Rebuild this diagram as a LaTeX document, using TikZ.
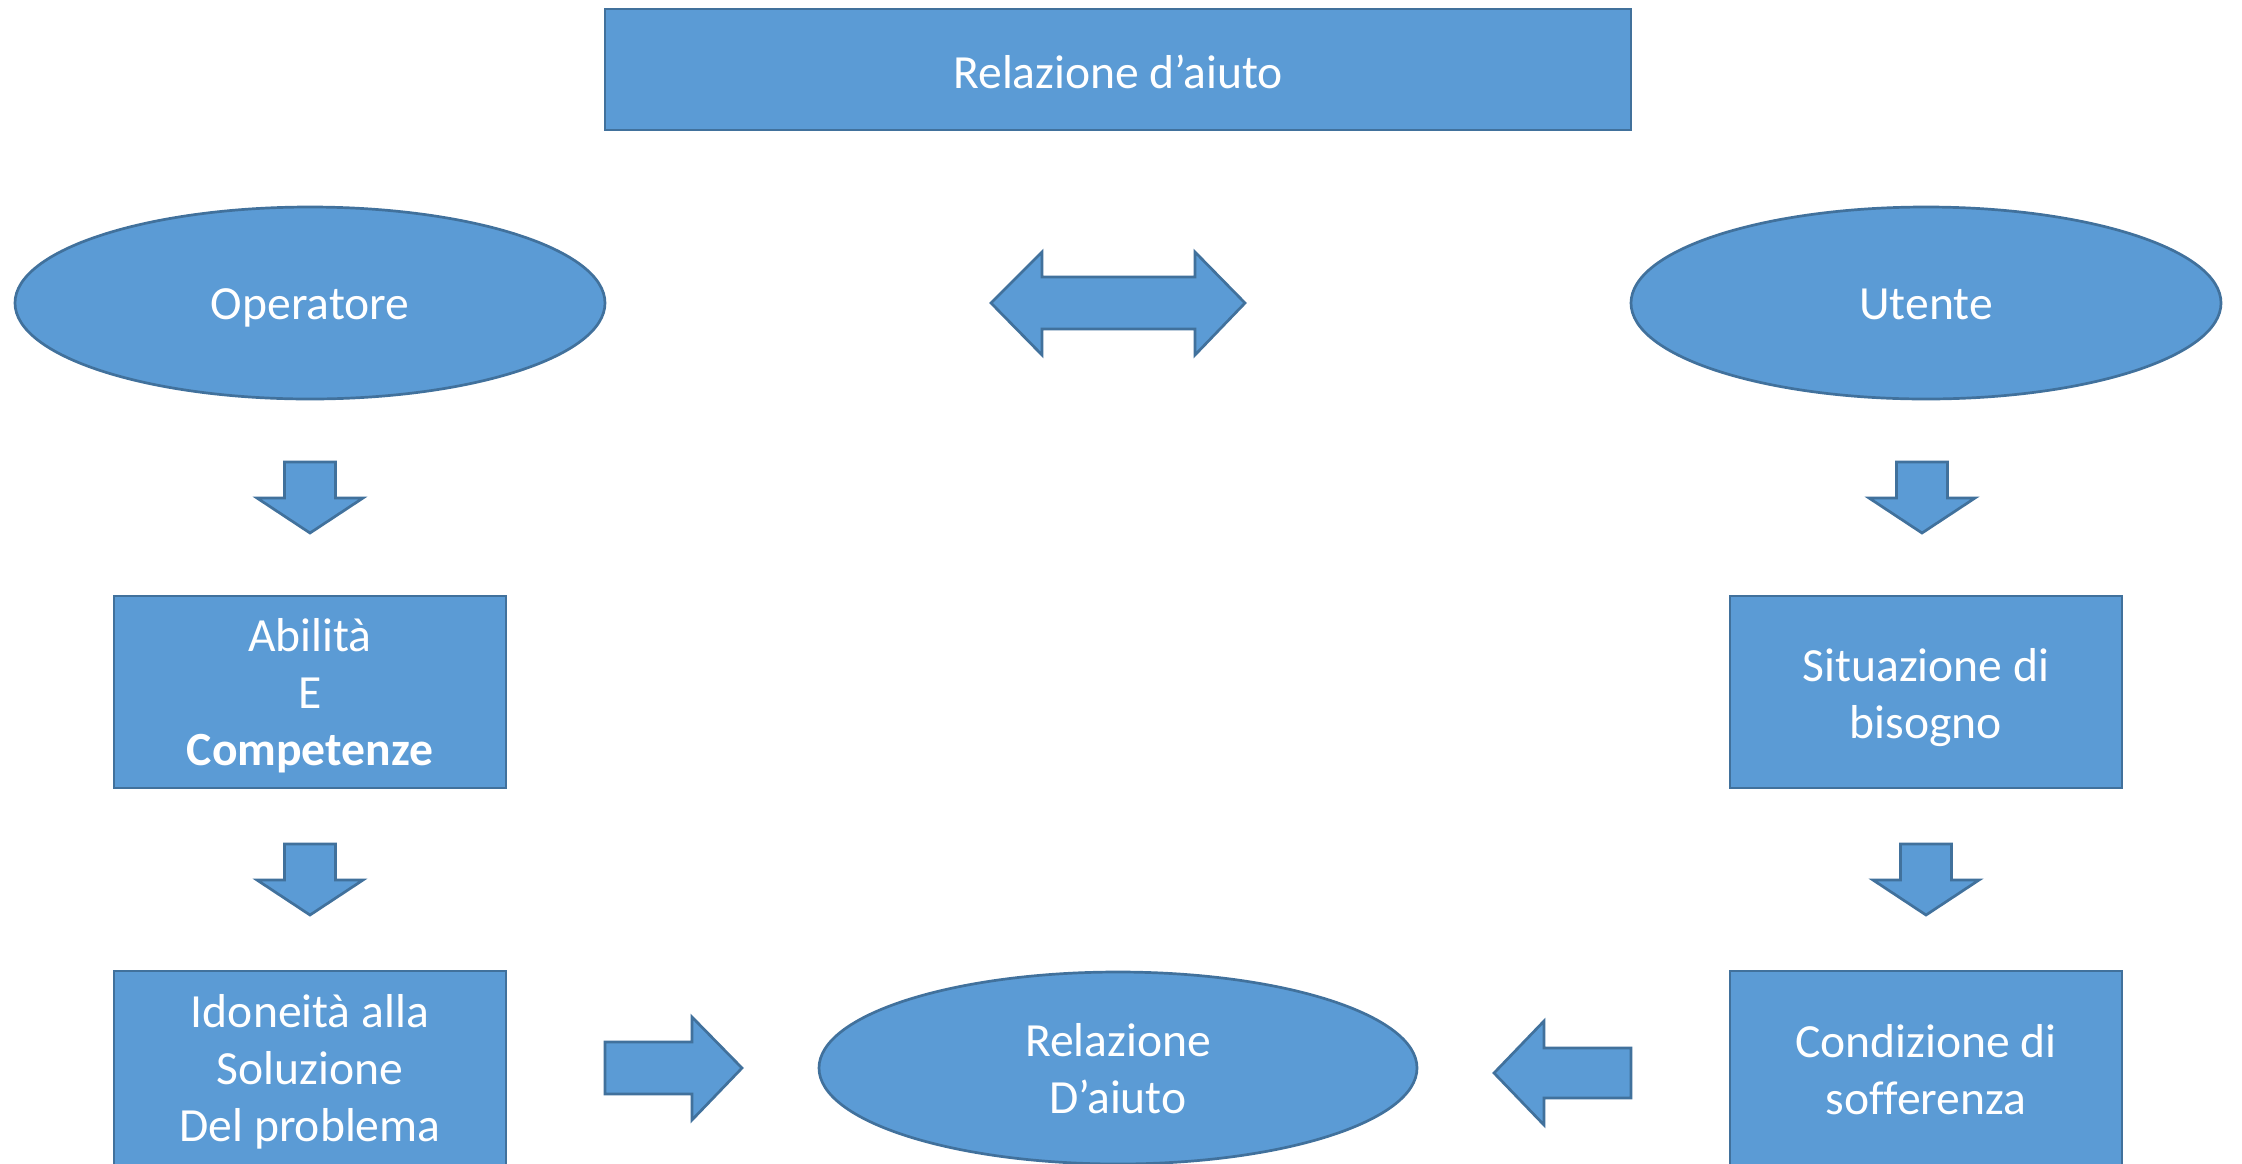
\documentclass[tikz,border=0pt]{standalone}
\usepackage{fontspec}
\setmainfont[Ligatures=NoCommon]{Carlito}
\usetikzlibrary{shapes.geometric}
\definecolor{fillb}{HTML}{5B9BD5}
\definecolor{edgeb}{HTML}{41719C}
\tikzset{
  blk/.style={fill=fillb,draw=edgeb,line width=1.35pt,line join=miter},
  txt/.style={text=white,font=\fontsize{23.8}{28.5}\selectfont,align=center,inner sep=0pt,yshift=-2pt},
  boxn/.style={blk,rectangle,minimum width=196pt,minimum height=96pt,inner sep=0pt},
  elln/.style={blk,ellipse,minimum width=295pt,minimum height=96pt,inner sep=0pt},
  pics/downarr/.style={code={
    \draw[blk] (-25.5,0) -- (25.5,0) -- (25.5,36) -- (53,36) -- (0,71) -- (-53,36) -- (-25.5,36) -- cycle;}}
}
\begin{document}
\begin{tikzpicture}[x=0.5pt,y=-0.5pt]
\useasboundingbox (0,0) rectangle (2242,1163);
\fill[white] (0,0) rectangle (2242,1163);
% top box
\node[blk,rectangle,minimum width=513pt,minimum height=60.5pt,inner sep=0pt,
  label={[txt,yshift=1pt]center:Relazione d’aiuto}] (top) at (1118,69.5) {};
% ellipses
\node[elln,label={[txt,yshift=-0.5pt]center:Operatore}] (op) at (310,303) {};
\node[elln,label={[txt,yshift=1.5pt]center:Utente}] (ut) at (1926,303) {};
\node[elln,minimum width=299pt,label={[txt,yshift=1.5pt]center:{Relazione\\D’aiuto}}] (rel) at (1118,1068) {};
% boxes
\node[boxn,label={[txt]center:{Abilità\\E\\\textbf{Competenze}}}] (abil) at (310,692) {};
\node[boxn,label={[txt,yshift=-1pt]center:{Situazione di\\bisogno}}] (sit) at (1926,692) {};
\node[boxn,minimum height=98pt,label={[txt,yshift=0.5pt]center:{Idoneità alla\\Soluzione\\Del problema}}] (ido) at (310,1069) {};
\node[boxn,minimum height=98pt,label={[txt,yshift=1.5pt]center:{Condizione di\\sofferenza}}] (cond) at (1926,1069) {};
% down arrows
\pic at (310,462) {downarr};
\pic at (310,844) {downarr};
\pic at (1922,462) {downarr};
\pic at (1926,844) {downarr};
% double arrow
\draw[blk] (991,303) -- (1042,252) -- (1042,277) -- (1195,277) -- (1195,252) -- (1245,303)
  -- (1195,355) -- (1195,329) -- (1042,329) -- (1042,355) -- cycle;
% right arrow
\draw[blk] (605,1042) -- (692,1042) -- (692,1017) -- (742,1068) -- (692,1120) -- (692,1094) -- (605,1094) -- cycle;
% left arrow
\draw[blk] (1631,1048) -- (1544,1048) -- (1544,1021) -- (1494,1073) -- (1544,1125) -- (1544,1098) -- (1631,1098) -- cycle;
\end{tikzpicture}
\end{document}
